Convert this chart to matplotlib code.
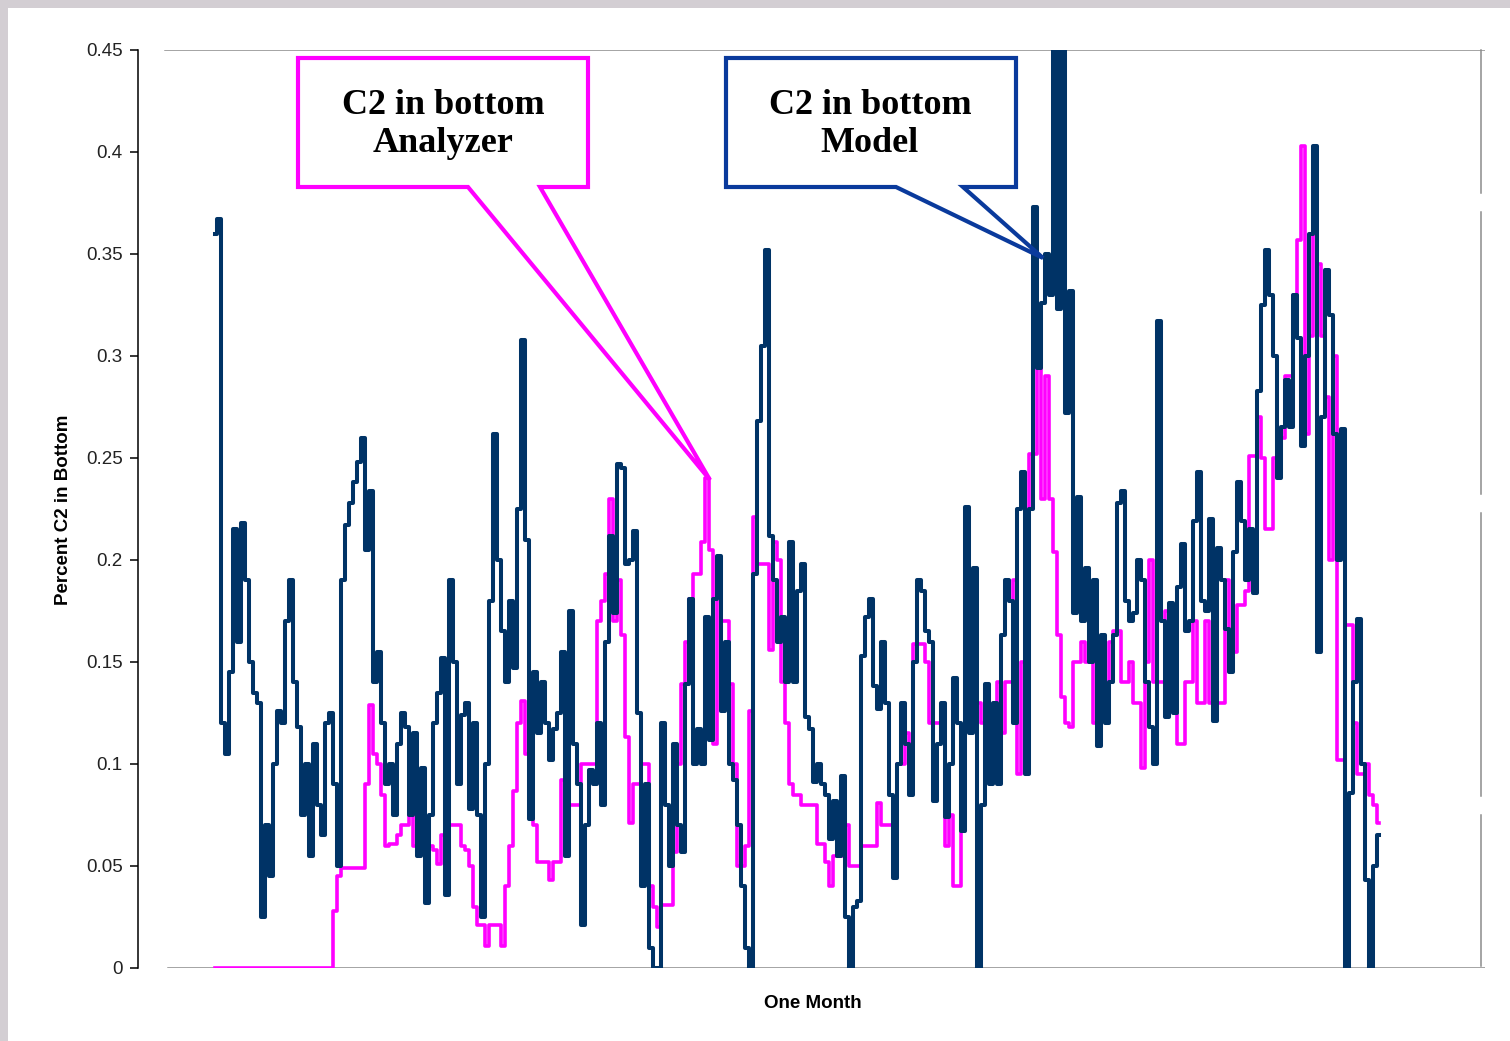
#!/usr/bin/env python3
"""C2 in bottom: analyzer vs model over one month."""

import numpy as np
import matplotlib

matplotlib.use("Agg")
import matplotlib.pyplot as plt
from matplotlib.patches import Polygon, Rectangle

W, H = 1510, 1041

# model prediction, one sample per step along the month
model = [
    0.36, 0.367, 0.12, 0.105, 0.145, 0.215, 0.16, 0.218, 0.19, 0.15,
    0.135, 0.13, 0.025, 0.07, 0.045, 0.1, 0.126, 0.12, 0.17, 0.19,
    0.14, 0.118, 0.075, 0.1, 0.055, 0.11, 0.08, 0.065, 0.12, 0.125,
    0.09, 0.05, 0.19, 0.217, 0.228, 0.238, 0.248, 0.26, 0.205, 0.234,
    0.14, 0.155, 0.12, 0.09, 0.1, 0.075, 0.11, 0.125, 0.118, 0.075,
    0.115, 0.055, 0.098, 0.032, 0.075, 0.12, 0.135, 0.152, 0.036, 0.19,
    0.15, 0.09, 0.124, 0.13, 0.078, 0.12, 0.075, 0.025, 0.1, 0.18,
    0.262, 0.2, 0.165, 0.14, 0.18, 0.147, 0.225, 0.308, 0.21, 0.073,
    0.145, 0.115, 0.14, 0.12, 0.102, 0.117, 0.125, 0.155, 0.055, 0.175,
    0.11, 0.09, 0.021, 0.07, 0.097, 0.09, 0.12, 0.08, 0.16, 0.212,
    0.174, 0.247, 0.245, 0.198, 0.2, 0.214, 0.125, 0.04, 0.09, 0.01,
    0.0, 0.0, 0.12, 0.08, 0.05, 0.11, 0.07, 0.057, 0.139, 0.181,
    0.1, 0.117, 0.1, 0.172, 0.112, 0.181, 0.202, 0.126, 0.16, 0.1,
    0.092, 0.07, 0.04, 0.01, 0.0, 0.193, 0.268, 0.305, 0.352, 0.212,
    0.19, 0.16, 0.172, 0.14, 0.209, 0.14, 0.185, 0.198, 0.123, 0.117,
    0.091, 0.1, 0.09, 0.085, 0.063, 0.082, 0.055, 0.094, 0.025, 0.0,
    0.03, 0.033, 0.153, 0.172, 0.181, 0.138, 0.127, 0.16, 0.13, 0.085,
    0.044, 0.1, 0.13, 0.11, 0.085, 0.15, 0.19, 0.185, 0.165, 0.16,
    0.082, 0.11, 0.13, 0.074, 0.1, 0.142, 0.12, 0.067, 0.226, 0.115,
    0.196, 0.0, 0.08, 0.139, 0.09, 0.13, 0.09, 0.163, 0.19, 0.18,
    0.12, 0.225, 0.243, 0.095, 0.225, 0.373, 0.294, 0.326, 0.35, 0.33,
    0.48, 0.323, 0.48, 0.272, 0.332, 0.174, 0.231, 0.17, 0.196, 0.15,
    0.19, 0.109, 0.163, 0.12, 0.14, 0.163, 0.228, 0.234, 0.18, 0.17,
    0.174, 0.2, 0.19, 0.14, 0.118, 0.1, 0.317, 0.17, 0.123, 0.179,
    0.125, 0.187, 0.208, 0.165, 0.17, 0.219, 0.243, 0.18, 0.175, 0.22,
    0.121, 0.206, 0.19, 0.166, 0.145, 0.204, 0.238, 0.219, 0.19, 0.215,
    0.184, 0.283, 0.325, 0.352, 0.33, 0.3, 0.24, 0.265, 0.288, 0.265,
    0.33, 0.309, 0.256, 0.3, 0.36, 0.403, 0.155, 0.27, 0.342, 0.32,
    0.262, 0.2, 0.264, 0.0, 0.086, 0.14, 0.171, 0.1, 0.043, 0.0,
    0.05, 0.065,
]

# analyzer reading, same sampling
analyzer = [
    0.0, 0.0, 0.0, 0.0, 0.0, 0.0, 0.0, 0.0, 0.0, 0.0,
    0.0, 0.0, 0.0, 0.0, 0.0, 0.0, 0.0, 0.0, 0.0, 0.0,
    0.0, 0.0, 0.0, 0.0, 0.0, 0.0, 0.0, 0.0, 0.0, 0.0,
    0.028, 0.045, 0.049, 0.049, 0.049, 0.049, 0.049, 0.049, 0.09, 0.129,
    0.105, 0.1, 0.085, 0.06, 0.061, 0.061, 0.065, 0.07, 0.07, 0.078,
    0.06, 0.06, 0.06, 0.06, 0.06, 0.058, 0.051, 0.065, 0.07, 0.07,
    0.07, 0.07, 0.06, 0.058, 0.05, 0.03, 0.021, 0.021, 0.011, 0.021,
    0.021, 0.021, 0.011, 0.04, 0.06, 0.087, 0.12, 0.131, 0.105, 0.08,
    0.07, 0.052, 0.052, 0.052, 0.043, 0.052, 0.052, 0.092, 0.08, 0.08,
    0.08, 0.08, 0.1, 0.1, 0.1, 0.1, 0.17, 0.18, 0.193, 0.23,
    0.17, 0.19, 0.163, 0.113, 0.071, 0.09, 0.09, 0.1, 0.1, 0.04,
    0.03, 0.02, 0.031, 0.031, 0.031, 0.057, 0.1, 0.139, 0.16, 0.181,
    0.193, 0.193, 0.209, 0.24, 0.205, 0.11, 0.2, 0.17, 0.17, 0.139,
    0.1, 0.05, 0.05, 0.06, 0.126, 0.221, 0.198, 0.198, 0.198, 0.156,
    0.209, 0.2, 0.14, 0.12, 0.09, 0.085, 0.085, 0.08, 0.08, 0.08,
    0.08, 0.061, 0.061, 0.052, 0.04, 0.055, 0.055, 0.055, 0.07, 0.05,
    0.05, 0.05, 0.06, 0.06, 0.06, 0.06, 0.081, 0.07, 0.07, 0.07,
    0.073, 0.1, 0.1, 0.115, 0.11, 0.159, 0.159, 0.159, 0.15, 0.12,
    0.12, 0.12, 0.12, 0.06, 0.075, 0.04, 0.04, 0.08, 0.157, 0.15,
    0.13, 0.13, 0.12, 0.095, 0.12, 0.12, 0.14, 0.115, 0.14, 0.14,
    0.19, 0.095, 0.15, 0.21, 0.252, 0.252, 0.311, 0.23, 0.29, 0.23,
    0.204, 0.163, 0.133, 0.12, 0.118, 0.15, 0.15, 0.16, 0.15, 0.15,
    0.12, 0.11, 0.13, 0.13, 0.16, 0.165, 0.165, 0.14, 0.14, 0.15,
    0.13, 0.13, 0.098, 0.15, 0.2, 0.14, 0.14, 0.14, 0.175, 0.13,
    0.13, 0.11, 0.11, 0.14, 0.14, 0.17, 0.13, 0.13, 0.17, 0.13,
    0.13, 0.13, 0.13, 0.19, 0.155, 0.155, 0.178, 0.178, 0.185, 0.251,
    0.251, 0.27, 0.25, 0.215, 0.215, 0.25, 0.25, 0.26, 0.29, 0.29,
    0.33, 0.357, 0.403, 0.262, 0.31, 0.36, 0.345, 0.31, 0.28, 0.2,
    0.3, 0.102, 0.102, 0.168, 0.168, 0.12, 0.095, 0.095, 0.1, 0.085,
    0.08, 0.071,
]

y_ticks = [0, 0.05, 0.1, 0.15, 0.2, 0.25, 0.3, 0.35, 0.4, 0.45]
y_tick_labels = ["0", "0.05", "0.1", "0.15", "0.2", "0.25", "0.3", "0.35", "0.4", "0.45"]

MAGENTA = "#ff00ff"
NAVY = "#003366"
BLUE = "#0a3a9c"
GREY = "#8c8c8c"


def fig_xy(px, py):
    return px / W, 1 - py / H


def callout(fig, pts, color, text, cx, cy):
    poly = Polygon([fig_xy(x, y) for x, y in pts], closed=True, transform=fig.transFigure,
                   facecolor="white", edgecolor=color, linewidth=3.0, joinstyle="miter", zorder=5)
    fig.add_artist(poly)
    fig.text(*fig_xy(cx, cy), text, ha="center", va="center", fontsize=26, fontweight="bold",
             family="Liberation Serif", color="black", linespacing=1.2, zorder=6)


def main():
    fig = plt.figure(figsize=(W / 100, H / 100), dpi=100, facecolor="white")

    # grey window border on top and left
    fig.add_artist(Rectangle((0, 1 - 8 / H), 1, 8 / H, transform=fig.transFigure,
                             facecolor="#d3ced3", edgecolor="none"))
    fig.add_artist(Rectangle((0, 0), 8 / W, 1, transform=fig.transFigure,
                             facecolor="#d3ced3", edgecolor="none"))

    ax = fig.add_axes([138 / W, (H - 968) / H, 1347 / W, 918 / H])
    x = np.arange(len(model))
    ax.plot(x, analyzer, color=MAGENTA, lw=2.6, drawstyle="steps-mid", zorder=3)
    ax.plot(x, model, color=NAVY, lw=2.9, drawstyle="steps-mid", zorder=4)

    ax.set_xlim(-19.25, 317.5)
    ax.set_ylim(0, 0.45)

    for side in ["top", "right", "bottom"]:
        ax.spines[side].set_visible(False)
    ax.spines["left"].set_color("black")
    ax.spines["left"].set_linewidth(1.1)

    ax.axhline(0.45, xmin=0.02, xmax=1.0, color=GREY, lw=1.1, zorder=1)
    ax.axhline(0.0, xmin=0.0223, xmax=1.0, color=GREY, lw=1.1, zorder=1)
    for y0, y1 in [(1.0, 0.844), (0.8235, 0.5163), (0.4956, 0.1874), (0.1667, 0.0022)]:
        ax.plot([0.997, 0.997], [y0, y1], transform=ax.transAxes, color=GREY, lw=1.1, clip_on=False)

    ax.set_xticks([])
    ax.set_yticks(y_ticks)
    ax.set_yticklabels(y_tick_labels, family="Liberation Sans", fontsize=13.5, color="#222222")
    ax.tick_params(axis="y", length=6, width=1.1, pad=5, color="black")

    fig.text(*fig_xy(63, 510), "Percent C2 in Bottom", rotation=90, ha="center", va="center",
             fontsize=13.5, fontweight="bold", family="Liberation Sans")
    fig.text(*fig_xy(813, 1003), "One Month", ha="center", va="center",
             fontsize=13.5, fontweight="bold", family="Liberation Sans")

    callout(fig, [(298, 58), (588, 58), (588, 187), (540, 187), (710, 480), (468, 187), (298, 187)],
            MAGENTA, "C2 in bottom\nAnalyzer", 443, 124)
    callout(fig, [(726, 58), (1016, 58), (1016, 187), (963, 187), (1043, 258), (896, 187), (726, 187)],
            BLUE, "C2 in bottom\nModel", 870, 124)

    fig.savefig("out.png", dpi=100)
    plt.close(fig)
    return 0


if __name__ == "__main__":
    raise SystemExit(main())
